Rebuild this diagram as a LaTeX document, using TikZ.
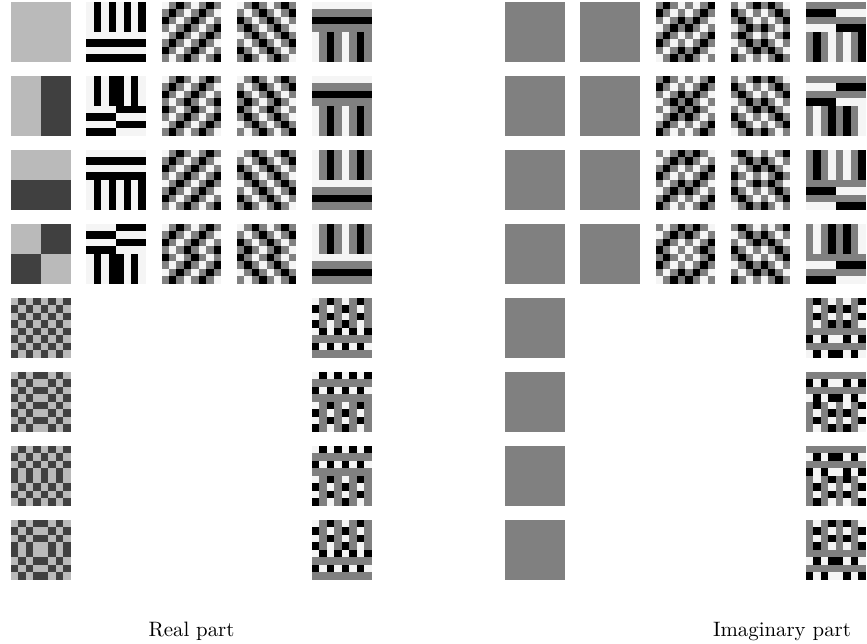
\documentclass[tikz,border=0pt]{standalone}
\usepackage{tikz}
\usetikzlibrary{positioning}

\tikzset{
  bfcaption/.style={font=\fontsize{10}{12}\selectfont, anchor=base},
}

\def\bfcell{7.45}

% one 4x4 block: x0, y0 (in cells), kr, kc, coef; \bfpart = 0 real, 1 imag
\newcommand{\bfblock}[5]{%
  \foreach \ii in {0,...,3}{
    \foreach \jj in {0,...,3}{
      \pgfmathsetmacro\bfv{#5*cos(-90*(#3*\ii+#4*\jj)-90*\bfpart)}
      \pgfmathsetmacro\bfp{ifthenelse(\bfv<0, 50-50*(\bfv), 50-46*(\bfv))}
      \fill[black!\bfp!white] ({(#1+\jj)*\bfcell},{(#2+\ii)*\bfcell})
        rectangle ++(\bfcell,\bfcell);
    }
  }
}

% one 8x8 tile: x, y (px), part, blocks TL/TR/BL/BR as kr/kc/coef
\newcommand{\bftile}[4]{%
  \begin{scope}[shift={(#1,#2)}]
    \def\bfpart{#3}
    \foreach \kr/\kc/\cf [count=\q from 0] in {#4}{
      \pgfmathtruncatemacro\bx{4*mod(\q,2)}
      \pgfmathtruncatemacro\by{4*int(\q/2)}
      \bfblock{\bx}{\by}{\kr}{\kc}{\cf}
    }
  \end{scope}
}

% real tile on the left, imaginary tile on the right
\newcommand{\bfpair}[3]{%
  \bftile{11+75.25*#1}{2+74*#2}{0}{#3}
  \bftile{505+75.25*#1}{2+74*#2}{1}{#3}
}

\begin{document}
\begin{tikzpicture}[x=0.48pt, y=-0.48pt]

\useasboundingbox (0,0) rectangle (867,644);

%% ── Column 1: one-dimensional ────────────────────────────────────────────
\bfpair{0}{0}{0/0/0.5, 0/0/0.5, 0/0/0.5, 0/0/0.5}
\bfpair{0}{1}{0/0/0.5, 0/0/-0.5, 0/0/0.5, 0/0/-0.5}
\bfpair{0}{2}{0/0/0.5, 0/0/0.5, 0/0/-0.5, 0/0/-0.5}
\bfpair{0}{3}{0/0/0.5, 0/0/-0.5, 0/0/-0.5, 0/0/0.5}
\bfpair{0}{4}{2/2/0.5, 2/2/0.5, 2/2/0.5, 2/2/0.5}
\bfpair{0}{5}{2/2/0.5, 2/2/-0.5, 2/2/0.5, 2/2/-0.5}
\bfpair{0}{6}{2/2/0.5, 2/2/0.5, 2/2/-0.5, 2/2/-0.5}
\bfpair{0}{7}{2/2/0.5, 2/2/-0.5, 2/2/-0.5, 2/2/0.5}

%% ── Column 2 ─────────────────────────────────────────────────────────────
\bfpair{1}{0}{0/2/1, 0/2/1, 2/0/1, 2/0/1}
\bfpair{1}{1}{0/2/1, 0/2/-1, 2/0/1, 2/0/-1}
\bfpair{1}{2}{2/0/1, 2/0/1, 0/2/1, 0/2/1}
\bfpair{1}{3}{2/0/1, 2/0/-1, 0/2/1, 0/2/-1}

%% ── Column 3 ─────────────────────────────────────────────────────────────
\bfpair{2}{0}{1/1/1, -1/-1/1, 1/1/1, -1/-1/1}
\bfpair{2}{1}{1/1/1, -1/-1/1, 1/1/-1, -1/-1/-1}
\bfpair{2}{2}{-1/-1/1, 1/1/1, -1/-1/1, 1/1/1}
\bfpair{2}{3}{-1/-1/1, 1/1/1, -1/-1/-1, 1/1/-1}

%% ── Column 4 ─────────────────────────────────────────────────────────────
\bfpair{3}{0}{1/-1/1, -1/1/1, -1/1/1, 1/-1/1}
\bfpair{3}{1}{1/-1/1, -1/1/1, -1/1/-1, 1/-1/-1}
\bfpair{3}{2}{-1/1/1, 1/-1/1, 1/-1/1, -1/1/1}
\bfpair{3}{3}{-1/1/1, 1/-1/1, 1/-1/-1, -1/1/-1}

%% ── Column 5 ─────────────────────────────────────────────────────────────
\bfpair{4}{0}{1/0/1, -1/0/1, 0/1/1, 0/-1/1}
\bfpair{4}{1}{-1/0/1, 1/0/1, 0/-1/1, 0/1/1}
\bfpair{4}{2}{0/1/1, 0/-1/1, 1/0/1, -1/0/1}
\bfpair{4}{3}{0/-1/1, 0/1/1, -1/0/1, 1/0/1}
\bfpair{4}{4}{2/1/1, 2/3/1, 1/2/1, 3/2/1}
\bfpair{4}{5}{1/2/1, 3/2/1, 2/1/1, 2/3/1}
\bfpair{4}{6}{3/2/1, 1/2/1, 2/3/1, 2/1/1}
\bfpair{4}{7}{2/3/1, 2/1/1, 3/2/1, 1/2/1}

%% ── Captions ─────────────────────────────────────────────────────────────
\node[bfcaption] (realcap) at (191.5,636) {Real part};
\node[bfcaption] (imagcap) at (782,636) {Imaginary part};

\end{tikzpicture}
\end{document}
